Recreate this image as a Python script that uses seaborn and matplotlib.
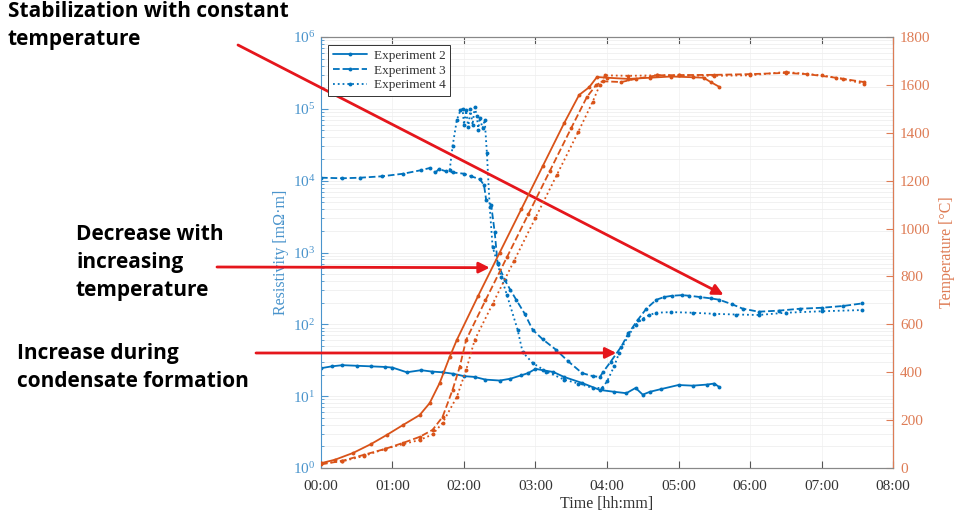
import numpy as np
import pandas as pd
import matplotlib
matplotlib.use("Agg")
import matplotlib.pyplot as plt
from matplotlib.lines import Line2D
from matplotlib.ticker import FixedLocator, LogFormatterSciNotation, NullFormatter
import seaborn as sns

# ---------------- data ----------------
# Resistivity [mOhm*m] vs time [h]
t_r2 = [0, 0.15, 0.3, 0.5, 0.7, 0.9, 1.0, 1.2, 1.4, 1.55, 1.7, 1.85, 2.0, 2.15, 2.3, 2.5,
        2.65, 2.8, 2.9, 3.0, 3.1, 3.25, 3.4, 3.65, 3.9, 4.1, 4.27, 4.4, 4.5, 4.6, 4.75, 5.0,
        5.2, 5.4, 5.5, 5.57]
r2 = [24.5, 26, 27, 26.5, 26, 25.5, 25, 21.5, 23, 22, 21.5, 20.5, 19, 18.5, 17, 16.5,
      17.5, 19.5, 21, 24, 23, 21.7, 18.5, 15.3, 12.2, 11.5, 11, 13, 10.5, 11.5, 12.5, 14.3,
      14, 14.5, 15, 13.4]

t_r3 = [0, 0.3, 0.55, 0.85, 1.15, 1.4, 1.52, 1.6, 1.65, 1.75, 1.85, 2.0, 2.1, 2.22, 2.28,
        2.31, 2.38, 2.43, 2.47, 2.57, 2.65, 2.73, 2.85, 2.96, 3.1, 3.29, 3.45, 3.65, 3.8, 3.9,
        3.95, 4.05, 4.2, 4.3, 4.43, 4.55, 4.69, 4.8, 4.91, 5.05, 5.15, 5.3, 5.45, 5.57, 5.75,
        5.9, 6.12, 6.4, 6.7, 7.0, 7.3, 7.56]
r3 = [11000, 10800, 11000, 11500, 12500, 14000, 15000, 13000, 14500, 13500, 13000, 12500,
      11500, 10500, 8700, 5400, 4600, 1900, 710, 415, 300, 220, 140, 84, 62, 44, 31, 21, 19,
      18.5, 22, 30, 49, 75, 115, 165, 220, 240, 250, 255, 250, 240, 230, 220, 190,
      165, 150, 155, 165, 170, 180, 195]

t_r4 = [1.8, 1.84, 1.9, 1.95, 1.98, 2.0, 2.03, 2.06, 2.09, 2.12, 2.15, 2.18, 2.2, 2.22,
        2.26, 2.29, 2.32, 2.36, 2.4, 2.47, 2.52, 2.6, 2.75, 2.82, 2.96, 3.15, 3.4, 3.6, 3.8,
        3.93, 4.0, 4.1, 4.17, 4.3, 4.4, 4.5, 4.59, 4.69, 4.9, 5.2, 5.5, 5.8, 6.12, 6.5, 7.0,
        7.56]
r4 = [14000, 30000, 70000, 95000, 100000, 60000, 95000, 55000, 100000, 60000, 105000,
      80000, 50000, 75000, 54000, 70000, 24500, 4300, 1200, 700, 457, 257, 84, 41, 29, 22,
      17, 15, 13, 13, 16, 26, 40, 70, 98, 120, 135, 145, 148, 145, 140, 137, 135, 145, 152,
      158]

# Temperature [degC] vs time [h]
t_T2 = [0, 0.2, 0.45, 0.7, 0.92, 1.15, 1.38, 1.52, 1.66, 1.8, 1.9, 2.2, 2.5, 2.8, 3.1,
        3.4, 3.61, 3.75, 3.86, 4.0, 4.3, 4.6, 4.9, 5.2, 5.35, 5.45, 5.57]
T2 = [20, 35, 63, 100, 138, 180, 221, 271, 355, 464, 535, 720, 900, 1080, 1260,
      1440, 1558, 1590, 1633, 1630, 1625, 1630, 1635, 1632, 1630, 1612, 1592]

t_T3 = [0, 0.3, 0.6, 0.9, 1.15, 1.38, 1.56, 1.7, 1.84, 1.94, 2.03, 2.3, 2.6, 2.9, 3.2,
        3.5, 3.72, 3.85, 3.95, 4.2, 4.4, 4.7, 5.0, 5.5, 6.0, 6.5, 6.8, 7.2, 7.59]
T3 = [15, 30, 55, 80, 105, 130, 159, 213, 326, 422, 535, 700, 880, 1060, 1240,
      1420, 1550, 1600, 1615, 1612, 1625, 1640, 1641, 1642, 1645, 1650, 1645, 1630, 1612]

t_T4 = [0, 0.3, 0.6, 0.9, 1.15, 1.38, 1.56, 1.7, 1.9, 2.03, 2.15, 2.4, 2.7, 3.0, 3.3,
        3.6, 3.8, 3.9, 3.97, 4.3, 4.7, 5.0, 5.5, 6.0, 6.5, 7.0, 7.3, 7.59]
T4 = [20, 28, 50, 80, 100, 117, 140, 188, 297, 409, 535, 685, 865, 1045, 1225,
      1405, 1530, 1600, 1640, 1638, 1640, 1640, 1638, 1640, 1654, 1640, 1625, 1605]

series_names = ["Experiment 2", "Experiment 3", "Experiment 4"]
x_tick_hours = [0, 1, 2, 3, 4, 5, 6, 7, 8]
x_tick_labels = ["00:00", "01:00", "02:00", "03:00", "04:00", "05:00", "06:00", "07:00", "08:00"]
res_ticks = [1, 10, 100, 1000, 10000, 100000, 1000000]
temp_ticks = [0, 200, 400, 600, 800, 1000, 1200, 1400, 1600, 1800]

# ---------------- style ----------------
sns.set_style("ticks")
plt.rcParams["font.family"] = ["Liberation Serif", "DejaVu Serif"]
plt.rcParams["mathtext.fontset"] = "stix"

BLUE = "#0072BD"
ORANGE = "#D95319"
BLUE_TXT = "#4A94CC"
ORANGE_TXT = "#DE7C55"
RED = "#E5161C"

fig = plt.figure(figsize=(9.59, 5.17), dpi=100)
ax = fig.add_axes([0.3347, 0.0948, 0.5965, 0.8336])
ax2 = ax.twinx()

styles = ["-", "--", ":"]
res_sets = [(t_r2, r2), (t_r3, r3), (t_r4, r4)]
tmp_sets = [(t_T2, T2), (t_T3, T3), (t_T4, T4)]

for (tx, vy), ls in zip(res_sets, styles):
    df = pd.DataFrame({"t": tx, "v": vy})
    sns.lineplot(data=df, x="t", y="v", ax=ax, color=BLUE, linestyle=ls, lw=1.3,
                 marker="o", markersize=2.8, markeredgewidth=0, sort=False)

for (tx, vy), ls in zip(tmp_sets, styles):
    df = pd.DataFrame({"t": tx, "v": vy})
    sns.lineplot(data=df, x="t", y="v", ax=ax2, color=ORANGE, linestyle=ls, lw=1.3,
                 marker="o", markersize=2.8, markeredgewidth=0, sort=False)

ax.set_yscale("log")
ax.set_ylim(1, 1e6)
ax.set_xlim(0, 8)
ax2.set_ylim(0, 1800)
ax2.set_yticks(temp_ticks)

ax.xaxis.set_major_locator(FixedLocator(x_tick_hours))
ax.set_xticklabels(x_tick_labels)
ax.yaxis.set_major_locator(FixedLocator(res_ticks))
ax.yaxis.set_major_formatter(LogFormatterSciNotation())
minor = [m * d for d in res_ticks[:-1] for m in range(2, 10)]
ax.yaxis.set_minor_locator(FixedLocator(minor))
ax.yaxis.set_minor_formatter(NullFormatter())

ax.grid(True, which="both", axis="y", color="#EFEFEF", lw=0.6)
ax.grid(True, which="major", axis="x", color="#F2F2F2", lw=0.6)
ax.set_axisbelow(True)

ax.set_xlabel("Time [hh:mm]", fontsize=11.5, color="#333333", labelpad=2)
ax.set_ylabel("Resistivity [m\u03a9\u00b7m]", fontsize=11.5, color=BLUE_TXT, labelpad=3)
ax2.set_ylabel("Temperature [\u00b0C]", fontsize=11.5, color=ORANGE_TXT, labelpad=6)

ax.tick_params(axis="x", direction="in", top=True, colors="#555555", labelcolor="#333333",
               labelsize=11, length=5, width=0.8, pad=9)
ax.tick_params(axis="y", which="both", direction="in", colors=BLUE_TXT, labelsize=11, pad=4)
ax.tick_params(axis="y", which="major", length=5)
ax.tick_params(axis="y", which="minor", length=2.5)
ax2.tick_params(axis="y", direction="in", colors=ORANGE_TXT, labelsize=11, length=5, pad=5)

for sp in ["top", "bottom"]:
    ax.spines[sp].set_color("#888888")
ax.spines["left"].set_color(BLUE_TXT)
ax2.spines["right"].set_color(ORANGE_TXT)
ax2.spines["left"].set_visible(False)
ax2.spines["top"].set_color("#888888")
ax2.spines["bottom"].set_color("#888888")
for a in (ax, ax2):
    for sp in a.spines.values():
        sp.set_linewidth(0.8)

handles = [Line2D([], [], color=BLUE, linestyle=ls, lw=1.3, marker="o", markersize=2.8,
                  markeredgewidth=0) for ls in styles]
leg = ax.legend(handles, series_names, loc="upper left", bbox_to_anchor=(0.013, 0.982),
                borderaxespad=0, fontsize=9.5, handlelength=2.6, frameon=True, fancybox=False,
                edgecolor="#333333", framealpha=1, borderpad=0.35, labelspacing=0.2,
                handletextpad=0.5)
leg.get_frame().set_linewidth(0.7)
for txt in leg.get_texts():
    txt.set_color("#333333")

# ---------------- annotations ----------------
W, H = 959, 517
ann_font = dict(family=["Open Sans", "DejaVu Sans"], fontweight="bold", fontsize=15,
                color="black", va="top", ha="left", linespacing=1.45)
fig.text(8 / W, 1 - 1 / H, "Stabilization with constant\ntemperature", **ann_font)
fig.text(76 / W, 1 - 224 / H, "Decrease with\nincreasing\ntemperature", **ann_font)
fig.text(17 / W, 1 - 343 / H, "Increase during\ncondensate formation", **ann_font)

arrow = dict(arrowstyle="-|>", color=RED, lw=2, mutation_scale=16, shrinkA=0, shrinkB=0)
ax.annotate("", xy=(5.63, 257), xycoords="data", xytext=(238, H - 45),
            textcoords="figure pixels", arrowprops=arrow, annotation_clip=False)
ax.annotate("", xy=(2.36, 615), xycoords="data", xytext=(217, H - 267),
            textcoords="figure pixels", arrowprops=arrow, annotation_clip=False)
ax.annotate("", xy=(4.13, 40), xycoords="data", xytext=(256, H - 353),
            textcoords="figure pixels", arrowprops=arrow, annotation_clip=False)

fig.savefig("out.png", dpi=100, facecolor="white")
